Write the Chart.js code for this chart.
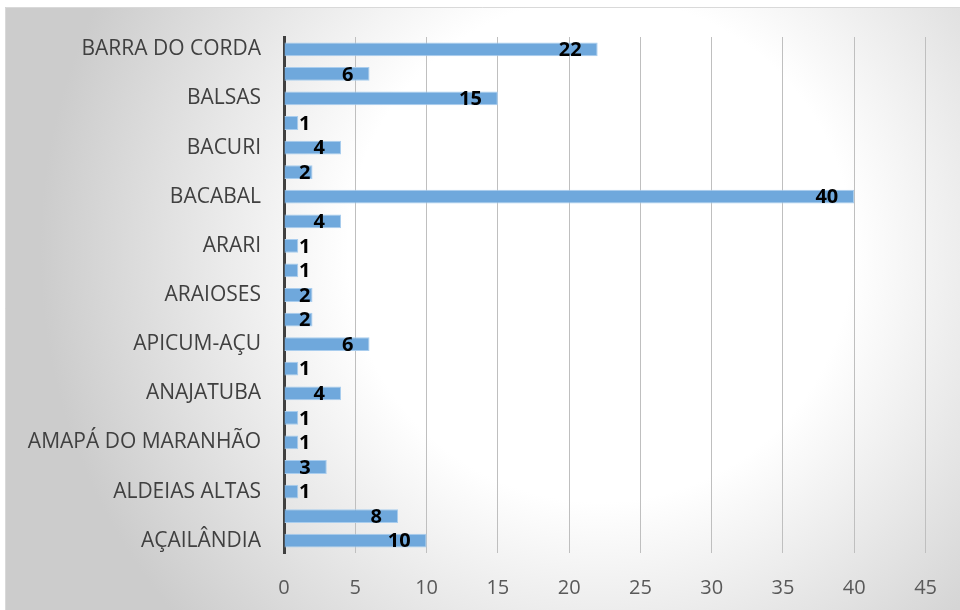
<!DOCTYPE html>
<html>
<head>
<meta charset="utf-8">
<script src="https://cdn.jsdelivr.net/npm/chart.js@4"></script>
<style>
  html, body { margin: 0; padding: 0; background: #ffffff; }
  #wrap { width: 960px; height: 610px; position: relative; }
</style>
</head>
<body>
<div id="wrap"><canvas id="chart" width="960" height="610"></canvas></div>
<script>
// categories listed bottom to top (axis is reversed)
const municipios = [
  'AÇAILÂNDIA', 'ALCÂNTARA', 'ALDEIAS ALTAS', 'ALTO ALEGRE DO PINDARÉ',
  'AMAPÁ DO MARANHÃO', 'AMARANTE DO MARANHÃO', 'ANAJATUBA', 'ANAPURUS',
  'APICUM-AÇU', 'ARAGUANÃ', 'ARAIOSES', 'ARAME', 'ARARI', 'AXIXÁ',
  'BACABAL', 'BACABEIRA', 'BACURI', 'BACURITUBA', 'BALSAS',
  'BARÃO DE GRAJAÚ', 'BARRA DO CORDA'
];
const quantidades = [10, 8, 1, 3, 1, 1, 4, 1, 6, 2, 2, 1, 1, 4, 40, 2, 4, 1, 15, 6, 22];
const xTicks = [0, 5, 10, 15, 20, 25, 30, 35, 40, 45];

const FONT = '"Open Sans", Carlito, sans-serif';

const backgroundPlugin = {
  id: 'bg',
  beforeDraw(chart) {
    const ctx = chart.ctx;
    ctx.save();
    ctx.fillStyle = '#ffffff';
    ctx.fillRect(0, 0, chart.width, chart.height);
    const g = ctx.createRadialGradient(600, 250, 0, 600, 250, 560);
    g.addColorStop(0, '#ffffff');
    g.addColorStop(0.45, '#ffffff');
    g.addColorStop(1, '#cccccc');
    ctx.fillStyle = g;
    ctx.fillRect(5, 7, chart.width - 5, chart.height - 7);
    ctx.strokeStyle = '#d9d9d9';
    ctx.lineWidth = 1;
    ctx.beginPath();
    ctx.moveTo(5.5, chart.height);
    ctx.lineTo(5.5, 7.5);
    ctx.lineTo(chart.width, 7.5);
    ctx.stroke();
    ctx.restore();
  }
};

const valueLabels = {
  id: 'valueLabels',
  afterDatasetsDraw(chart) {
    const ctx = chart.ctx;
    const base = chart.scales.x.getPixelForValue(0);
    ctx.save();
    ctx.font = 'bold 20px ' + FONT;
    ctx.fillStyle = '#000000';
    ctx.textBaseline = 'middle';
    ctx.textAlign = 'left';
    chart.getDatasetMeta(0).data.forEach((bar, i) => {
      const txt = String(quantidades[i]);
      const w = ctx.measureText(txt).width;
      let left = bar.x - 16 - w;
      if (left < base + 15) left = base + 15;
      ctx.fillText(txt, left, bar.y + 1);
    });
    ctx.restore();
  }
};

new Chart(document.getElementById('chart'), {
  type: 'bar',
  data: {
    labels: municipios,
    datasets: [{
      data: quantidades,
      backgroundColor: '#6fa8dc',
      borderColor: '#a9cdee',
      borderWidth: 1,
      barPercentage: 0.56,
      categoryPercentage: 1
    }]
  },
  options: {
    indexAxis: 'y',
    responsive: false,
    animation: false,
    layout: { padding: { left: 0, top: 37, right: 33, bottom: 0 } },
    plugins: {
      legend: { display: false },
      tooltip: { enabled: false }
    },
    scales: {
      x: {
        min: 0,
        max: 45,
        afterBuildTicks: (scale) => { scale.ticks = xTicks.map(v => ({ value: v })); },
        afterFit: (scale) => { scale.height = 57; },
        grid: { color: '#bfbfbf', lineWidth: 1, drawTicks: false },
        border: { display: false },
        ticks: {
          padding: 23,
          color: '#595959',
          font: { family: FONT, size: 20 }
        }
      },
      y: {
        reverse: true,
        afterFit: (scale) => { scale.width = 284; },
        grid: { display: false, drawTicks: false },
        border: { display: true, color: '#404040', width: 3 },
        ticks: {
          autoSkip: false,
          padding: 23,
          color: '#404040',
          font: { family: FONT, size: 21 },
          callback: function (value, index) {
            return index % 2 === 0 ? this.getLabelForValue(value) : '';
          }
        }
      }
    }
  },
  plugins: [backgroundPlugin, valueLabels]
});
</script>
</body>
</html>
